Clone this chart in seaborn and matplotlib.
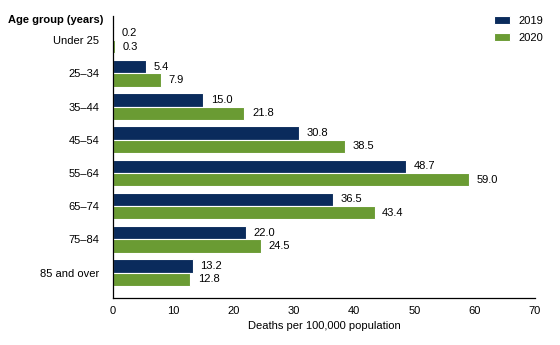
import matplotlib
matplotlib.use("Agg")
import matplotlib.pyplot as plt
import seaborn as sns
import pandas as pd

categories = ["Under 25", "25\u201334", "35\u201344", "45\u201354", "55\u201364", "65\u201374", "75\u201384", "85 and over"]
values_2019 = [0.2, 5.4, 15.0, 30.8, 48.7, 36.5, 22.0, 13.2]
values_2020 = [0.3, 7.9, 21.8, 38.5, 59.0, 43.4, 24.5, 12.8]
years = ["2019", "2020"]
xticks = [0, 10, 20, 30, 40, 50, 60, 70]

df = pd.DataFrame({
    "age": categories * 2,
    "rate": values_2019 + values_2020,
    "year": [years[0]] * len(categories) + [years[1]] * len(categories),
})

sns.set_style("white")
plt.rcParams["font.family"] = ["Liberation Sans", "DejaVu Sans"]
plt.rcParams["text.color"] = "black"
plt.rcParams["xtick.color"] = "black"
plt.rcParams["ytick.color"] = "black"
plt.rcParams["axes.labelcolor"] = "black"

FS = 8

fig = plt.figure(figsize=(5.6, 3.45), dpi=100)
ax = fig.add_axes([0.2018, 0.136, 0.955 - 0.2018, 0.954 - 0.136])

palette = {"2019": "#0a2b5c", "2020": "#6a9b33"}
sns.barplot(data=df, y="age", x="rate", hue="year", order=categories, hue_order=years,
            palette=palette, orient="h", width=0.8, ax=ax, edgecolor="white", linewidth=0.8,
            saturation=1)

for cont in ax.containers:
    ax.bar_label(cont, labels=[f"{v:.1f}" for v in cont.datavalues], padding=5.5, fontsize=FS)

ax.set_xlim(0, 70)
ax.set_ylim(7.77, -0.73)
ax.set_xticks(xticks)
ax.set_xticklabels([str(t) for t in xticks], fontsize=FS)
ax.tick_params(axis="x", direction="in", length=5, width=0.8, color="black", pad=6)
ax.tick_params(axis="y", length=0, labelsize=FS, pad=10)
ax.set_xlabel("Deaths per 100,000 population", fontsize=FS, labelpad=3)
ax.set_ylabel("")
for s in ["top", "right"]:
    ax.spines[s].set_visible(False)
for s in ["left", "bottom"]:
    ax.spines[s].set_color("black")
    ax.spines[s].set_linewidth(0.9)

fig.text(103 / 560, 1 - 20 / 345, "Age group (years)", ha="right", va="center",
         fontsize=FS, fontweight="bold")

leg = ax.legend(loc="upper right", bbox_to_anchor=(543 / 560, 1 - 16 / 345),
                bbox_transform=fig.transFigure, borderaxespad=0, borderpad=0,
                frameon=False, fontsize=FS,
                handlelength=1.45, handleheight=0.65, handletextpad=0.75,
                labelspacing=0.62, title=None)

fig.savefig("out.png", dpi=100)
